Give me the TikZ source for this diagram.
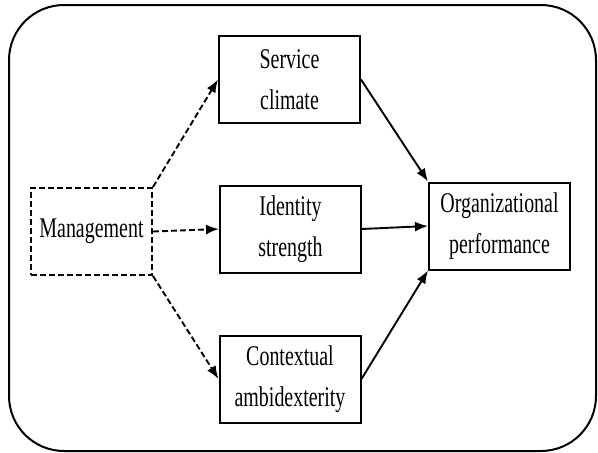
\documentclass[tikz,border=0pt]{standalone}
\usepackage{fontspec}
\setmainfont{Liberation Serif}
\newfontfamily\narrowserif[FakeStretch=0.70]{Liberation Serif}
\usetikzlibrary{arrows,arrows.meta,positioning}
\tikzset{
    basic/.style  = {draw, line width=2pt, rectangle, align=center, font=\narrowserif\fontsize{28.5}{41}\selectfont, inner sep=0pt},
    factor/.style = {basic, minimum width=141pt, minimum height=87pt},
    source/.style = {basic, dash pattern=on 6pt off 3pt, minimum width=121pt, minimum height=87pt},
    dashlink/.style = {-{Latex[length=13pt,width=10pt]}, line width=1.9pt, dash pattern=on 6pt off 3pt},
    link/.style = {-{Latex[length=13pt,width=10pt]}, line width=1.9pt}
}

\begin{document}
\begin{tikzpicture}[x=1pt, y=-1pt]
    \useasboundingbox (0,0) rectangle (598,453);
    % frame
    \draw[line width=2pt, rounded corners=55pt] (9,5) rectangle (596,451);
    % nodes
    \node[source] (mgmt) at (91.5,231.5) {Management};
    \node[factor] (serv) at (289.5,79.5) {Service\\climate};
    \node[factor] (ident) at (290.5,229) {Identity\\strength};
    \node[factor] (ctx) at (290,379) {Contextual\\ambidexterity};
    \node[factor] (perf) at (499.5,226) {Organizational\\performance};
    % links
    \draw[dashlink] (mgmt.north east) -- (serv.west);
    \draw[dashlink] (mgmt.east) -- (ident.west);
    \draw[dashlink] (mgmt.south east) -- (ctx.west);
    \draw[link] (serv.east) -- (perf.north west);
    \draw[link] (ident.east) -- (perf.west);
    \draw[link] (ctx.east) -- (perf.south west);
\end{tikzpicture}
\end{document}
